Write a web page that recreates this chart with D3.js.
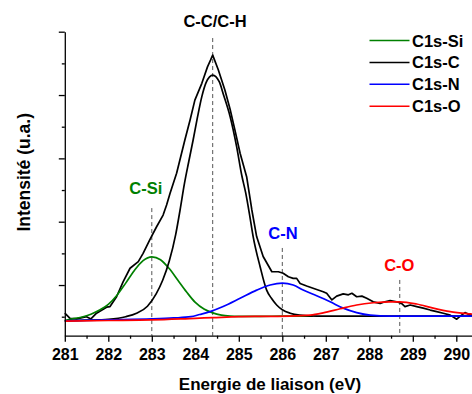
<!DOCTYPE html>
<html><head><meta charset="utf-8">
<script src="https://cdn.jsdelivr.net/npm/d3@7/dist/d3.min.js"></script>
<style>
html,body{margin:0;padding:0;background:#fff;overflow:hidden}
svg{display:block;font-family:Arial,"Liberation Sans",sans-serif;font-weight:bold}
</style></head>
<body>
<svg id="chart" width="472" height="394"></svg>
<script>
// ---------- data (binding energy in eV, intensity in arbitrary units) ----------
const xTicks = [281,282,283,284,285,286,287,288,289,290];
const seriesNames = ["C1s-Si","C1s-C","C1s-N","C1s-O"];
const seriesColors = ["#008000","#000000","#0000ff","#ff0000"];

const rawE = [281.0,281.12,281.27,281.5,281.6,281.73,281.96,282.04,282.19,282.34,282.5,282.69,282.8,282.95,283.11,283.26,283.34,283.42,283.57,283.76,283.88,283.99,284.15,284.28,284.35,284.4,284.53,284.68,284.8,284.91,285.03,285.18,285.3,285.41,285.56,285.76,285.91,286.02,286.14,286.25,286.33,286.41,286.56,286.79,286.94,287.02,287.14,287.25,287.4,287.52,287.6,287.71,287.83,287.94,288.09,288.25,288.36,288.48,288.63,288.74,288.82,288.94,289.09,289.24,289.4,289.55,289.7,289.86,290.01,290.09,290.2,290.32,290.4];
const rawI = [0.11,-0.05,-0.07,0.0,-0.07,0.11,0.3,0.32,0.63,1.1,1.53,1.74,2.0,2.42,2.84,3.21,3.53,3.9,4.53,5.58,6.21,6.84,7.37,7.89,8.1,8.26,7.79,7.16,6.55,5.9,5.16,4.42,3.37,2.53,1.9,1.42,1.42,1.37,1.26,1.21,1.21,1.05,0.97,0.86,0.79,0.74,0.53,0.65,0.72,0.69,0.74,0.63,0.65,0.58,0.47,0.42,0.47,0.51,0.47,0.42,0.32,0.37,0.32,0.27,0.21,0.16,0.11,0.05,-0.08,0.02,0.13,0.05,0.05];

const siE = [281.0,281.2,281.4,281.6,281.8,282.0,282.2,282.4,282.6,282.8,283.0,283.2,283.4,283.6,283.8,284.0,284.2,284.4,284.6,284.8,285.0,285.5,286.0,286.7];
const siI = [-0.12,-0.06,-0.01,0.08,0.21,0.39,0.68,1.06,1.46,1.77,1.89,1.80,1.52,1.15,0.78,0.45,0.24,0.12,0.05,0.02,0.01,0.01,0.02,0.02];

const cE = [281.0,281.5,282.0,282.4,282.65,282.9,283.1,283.25,283.4,283.55,283.65,283.75,283.85,283.95,284.05,284.15,284.25,284.4,284.55,284.65,284.8,284.95,285.07,285.16,285.25,285.33,285.49,285.64,285.75,285.87,286.0,286.18,286.4,286.8,290.4];
const cI = [-0.13,-0.11,-0.08,0.0,0.11,0.33,0.72,1.15,1.75,2.6,3.37,4.2,4.9,5.58,6.3,6.95,7.4,7.63,7.42,7.0,6.32,5.37,4.45,3.9,3.2,2.53,1.58,0.84,0.58,0.37,0.22,0.11,0.05,0.02,0.02];

const nE = [281.0,282.0,283.0,283.5,283.9,284.1,284.34,284.64,285.03,285.41,285.72,286.0,286.25,286.48,286.79,287.1,287.4,287.71,288.02,288.48,290.4];
const nI = [-0.13,-0.1,-0.07,-0.04,0.0,0.07,0.16,0.32,0.58,0.84,1.0,1.06,1.0,0.84,0.66,0.47,0.27,0.13,0.05,0.02,0.02];

const oE = [281.0,282.0,283.0,284.0,284.4,285.0,285.5,286.18,286.64,286.94,287.33,287.71,288.09,288.48,288.7,289.09,289.47,289.86,290.32,290.4];
const oI = [-0.14,-0.12,-0.1,-0.05,-0.03,0.0,0.01,0.02,0.05,0.12,0.25,0.37,0.44,0.47,0.47,0.40,0.27,0.16,0.09,0.08];

const peakLabels = ["C-Si","C-C/C-H","C-N","C-O"];
const peakE = [283.0,284.4,286.0,288.7];
const peakTop = [3.43,8.8,2.17,1.16];

// ---------- layout ----------
const svg = d3.select("#chart");
const x = d3.scaleLinear().domain([281,290.4]).range([64.8,473.7]);
const y = d3.scaleLinear().domain([-0.6,9]).range([335.7,31.7]);
const axisY = y(-0.6);

// dashed guide lines
peakE.forEach((e,i)=>{
  svg.append("line")
    .attr("x1",x(e)).attr("x2",x(e))
    .attr("y1",y(peakTop[i])).attr("y2",axisY)
    .attr("stroke","#555").attr("stroke-width",1)
    .attr("stroke-dasharray","4,3");
});

const line = d3.line().x(d=>x(d[0])).y(d=>y(d[1]));
const smooth = d3.line().x(d=>x(d[0])).y(d=>y(d[1])).curve(d3.curveMonotoneX);
const zip = (a,b)=>a.map((v,i)=>[v,b[i]]);

svg.append("path").attr("d",line(zip(rawE,rawI)))
  .attr("fill","none").attr("stroke","#000").attr("stroke-width",1.7).attr("stroke-linejoin","round");

const comps = [[siE,siI],[cE,cI],[nE,nI],[oE,oI]];
comps.forEach((c,i)=>{
  svg.append("path").attr("d",smooth(zip(c[0],c[1])))
    .attr("fill","none").attr("stroke",seriesColors[i]).attr("stroke-width",1.7);
});

// axes
const xAxis = svg.append("g").attr("transform",`translate(0,${axisY})`)
  .call(d3.axisBottom(x).tickValues(xTicks).tickFormat(d3.format("d")).tickSize(6).tickSizeOuter(0));
xAxis.select(".domain").attr("stroke-width",1.3);
xAxis.selectAll(".tick line").attr("stroke-width",1.3);
xAxis.selectAll(".tick text").attr("y",24.5).attr("dy",null)
  .style("font-size","16px").style("font-weight","bold").style("font-family","Arial,'Liberation Sans',sans-serif").attr("fill","#000");
const minorX = d3.range(281.5,290.5,1);
svg.append("g").attr("transform",`translate(0,${axisY})`)
  .call(d3.axisBottom(x).tickValues(minorX).tickFormat("").tickSize(3).tickSizeOuter(0))
  .call(g=>g.select(".domain").remove())
  .selectAll(".tick line").attr("stroke-width",1.3);

const yAxis = svg.append("g").attr("transform",`translate(${x(281)},0)`)
  .call(d3.axisLeft(y).tickValues([1,3,5,7,9]).tickFormat("").tickSize(6).tickSizeOuter(0));
yAxis.select(".domain").attr("stroke-width",1.3);
yAxis.selectAll(".tick line").attr("stroke-width",1.3);
svg.append("g").attr("transform",`translate(${x(281)},0)`)
  .call(d3.axisLeft(y).tickValues([0,2,4,6,8]).tickFormat("").tickSize(3).tickSizeOuter(0))
  .call(g=>g.select(".domain").remove())
  .selectAll(".tick line").attr("stroke-width",1.3);

// axis titles
svg.append("text").attr("x",270).attr("y",390).attr("text-anchor","middle")
  .style("font-size","17px").text("Energie de liaison (eV)");
svg.append("text").attr("transform","translate(29.5,172.3) rotate(-90)").attr("text-anchor","middle")
  .style("font-size","17.5px").text("Intensité (u.a.)");

// peak labels
const labelColors = ["#008000","#000000","#0000ff","#ff0000"];
const labelX = [145.8,215,283,399.3];
const labelY = [193.5,27,239,271];
peakLabels.forEach((t,i)=>{
  svg.append("text").attr("x",labelX[i]).attr("y",labelY[i]).attr("text-anchor","middle")
    .attr("fill",labelColors[i]).style("font-size","16.5px").text(t);
});

// legend
seriesNames.forEach((n,i)=>{
  const ly = 40.5 + i*21.9;
  svg.append("line").attr("x1",369.5).attr("x2",409.5).attr("y1",ly).attr("y2",ly)
    .attr("stroke",seriesColors[i]).attr("stroke-width",1.5);
  svg.append("text").attr("x",412).attr("y",ly+6).style("font-size","16.5px").text(n);
});
</script>
</body></html>
